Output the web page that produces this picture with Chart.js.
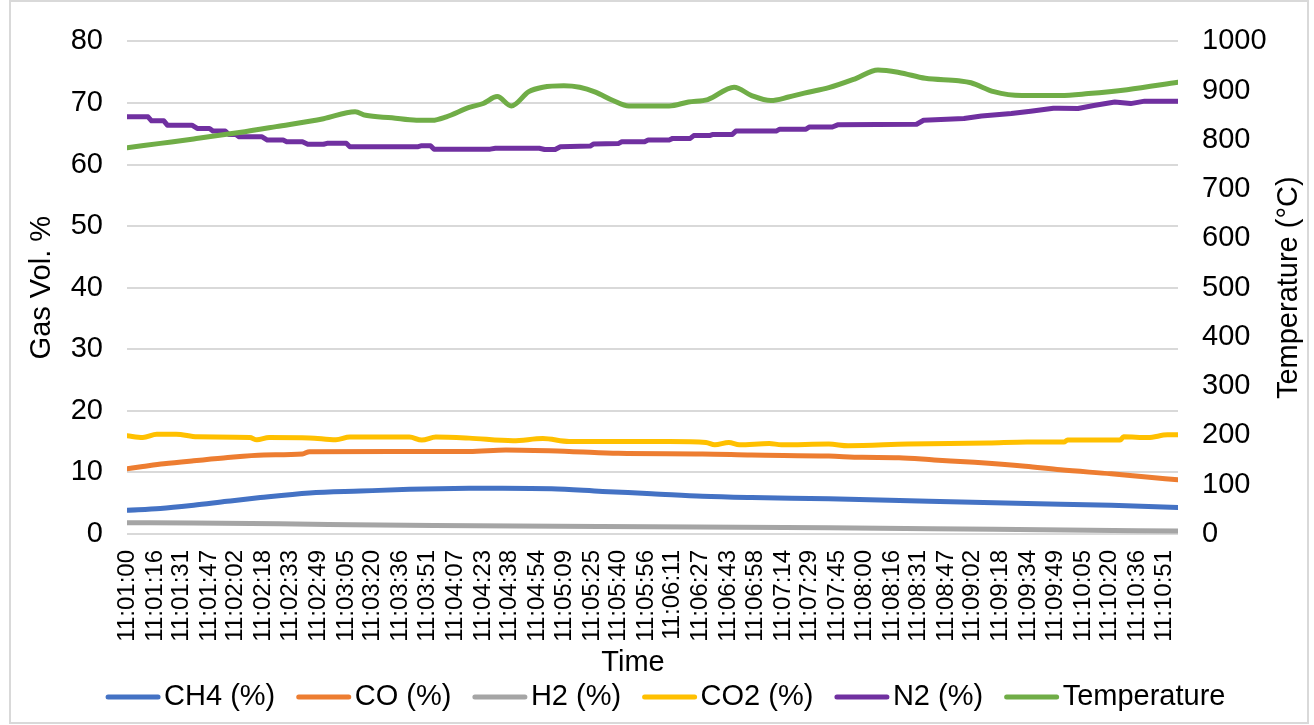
<!DOCTYPE html>
<html>
<head>
<meta charset="utf-8">
<title>Gas composition and temperature</title>
<script src="https://cdn.jsdelivr.net/npm/chart.js@4.4.1/dist/chart.umd.min.js"></script>
<style>
  html, body { margin: 0; padding: 0; background: #fff; }
  #wrap { width: 1314px; height: 725px; }
</style>
</head>
<body>
<div id="wrap"><canvas id="chart" width="1314" height="725"></canvas></div>
<script>
// Time axis labels (hh:mm:ss)
const tickLabels = ['11:01:00','11:01:16','11:01:31','11:01:47','11:02:02','11:02:18','11:02:33','11:02:49',
  '11:03:05','11:03:20','11:03:36','11:03:51','11:04:07','11:04:23','11:04:38','11:04:54','11:05:09','11:05:25',
  '11:05:40','11:05:56','11:06:11','11:06:27','11:06:43','11:06:58','11:07:14','11:07:29','11:07:45','11:08:00',
  '11:08:16','11:08:31','11:08:47','11:09:02','11:09:18','11:09:34','11:09:49','11:10:05','11:10:20','11:10:36',
  '11:10:51'];
const endSeconds = 599; // last sample, seconds after 11:01:00

// Series: sample times (s after 11:01:00) and readings
const ch4Time = [0, 19, 38, 57, 76, 104, 133, 161, 195, 214, 242, 271, 299, 328, 356, 400, 457, 513, 561, 599];
const ch4 = [3.86, 4.14, 4.67, 5.31, 5.91, 6.65, 6.97, 7.25, 7.42, 7.45, 7.36, 6.92, 6.55, 6.12, 5.91, 5.72, 5.31, 4.94, 4.67, 4.32];

const coTime = [0, 9, 21, 38, 55, 78, 100, 104, 151, 195, 216, 252, 280, 328, 356, 400, 419, 440, 460, 483, 512, 532, 561, 578, 599];
const co = [10.6, 10.95, 11.4, 11.9, 12.35, 12.83, 13.0, 13.37, 13.4, 13.4, 13.64, 13.4, 13.1, 13.0, 12.83, 12.65, 12.45, 12.4, 12.03, 11.64, 11.0, 10.42, 9.77, 9.34, 8.8];

const h2Time = [0, 38, 115, 175, 270, 400, 494, 599];
const h2 = [1.82, 1.78, 1.56, 1.4, 1.22, 1.03, 0.76, 0.48];

const co2Time = [0, 9, 17, 28, 40, 70, 74, 81, 104, 119, 127, 161, 168, 176, 195, 220, 237, 252, 309, 330, 335, 343, 349, 366, 373, 400, 411, 445, 491, 513, 534, 536, 566, 568, 582, 593, 599];
const co2 = [15.94, 15.67, 16.2, 16.2, 15.78, 15.67, 15.3, 15.67, 15.6, 15.3, 15.75, 15.75, 15.25, 15.75, 15.57, 15.14, 15.5, 15.02, 15.02, 14.86, 14.49, 14.86, 14.49, 14.7, 14.5, 14.6, 14.33, 14.6, 14.77, 14.93, 14.93, 15.25, 15.25, 15.78, 15.67, 16.1, 16.1];

const n2Time = [0, 12, 14, 21, 23, 37, 40, 47, 49, 56, 58, 62, 64, 77, 80, 89, 91, 100, 103, 112, 114, 125, 127, 166, 168, 173, 175,
  207, 210, 235, 238, 244, 247, 264, 266, 280, 282, 295, 297, 309, 311, 321, 323, 332, 334, 345, 347, 370, 372, 387, 389,
  402, 405, 450, 454, 477, 487, 504, 515, 528, 531, 542, 551, 563, 572, 580, 599];
const n2 = [67.75, 67.75, 67.1, 67.1, 66.4, 66.4, 65.86, 65.86, 65.43, 65.43, 64.9, 64.9, 64.5, 64.5, 63.98, 63.98, 63.7, 63.7, 63.3, 63.3, 63.45, 63.45, 62.9, 62.9, 63.07, 63.07, 62.5,
  62.5, 62.64, 62.64, 62.45, 62.45, 62.9, 63.0, 63.35, 63.4, 63.7, 63.7, 63.98, 63.98, 64.25, 64.25, 64.7, 64.7, 64.9, 64.9, 65.43, 65.43, 65.75, 65.75, 66.1,
  66.1, 66.45, 66.55, 67.2, 67.47, 67.9, 68.28, 68.65, 69.15, 69.15, 69.1, 69.6, 70.16, 69.9, 70.3, 70.3];

const tempTime = [0, 19, 38, 64, 85, 112, 130, 136, 151, 165, 174, 182, 195, 203, 211, 219, 229, 237, 249, 258, 267, 277, 286,
  309, 320, 331, 346, 356, 367, 377, 386, 400, 415, 428, 440, 455, 474, 481, 494, 510, 532, 548, 570, 599];
const temperature = [784, 793, 802, 815, 827, 843, 857, 850, 845, 840, 840, 847, 866, 874, 888, 869, 898, 907, 910, 907, 897, 880, 869,
  869, 877, 882, 907, 890, 880, 887, 895, 906, 924, 942, 937, 925, 920, 916, 898, 890, 890, 894, 902, 917];

const gasTicks = { min: 0, max: 80, step: 10 };
const tempTicks = { min: 0, max: 1000, step: 100 };

const FONT = "'Liberation Sans', Arial, sans-serif";
const tickSeconds = tickLabels.map(s => {
  const [h, m, sec] = s.split(':').map(Number);
  return (h - 11) * 3600 + (m - 1) * 60 + sec;
});
const pairs = (t, v) => t.map((x, i) => ({ x, y: v[i] }));

function series(label, t, v, color, axis, order, tension) {
  return {
    label, data: pairs(t, v), yAxisID: axis, order,
    borderColor: color, backgroundColor: color, borderWidth: 5,
    pointRadius: 0, pointHoverRadius: 0,
    tension: tension, cubicInterpolationMode: tension ? 'monotone' : 'default',
    borderCapStyle: 'round', borderJoinStyle: 'round'
  };
}

// White card with a thin grey frame behind the chart
const framePlugin = {
  id: 'frame',
  beforeDraw(chart) {
    const { ctx, width, height } = chart;
    ctx.save();
    ctx.fillStyle = '#ffffff';
    ctx.fillRect(0, 0, width, height);
    ctx.strokeStyle = '#d9d9d9';
    ctx.lineWidth = 2;
    ctx.strokeRect(10, 1, 1298, 722);
    ctx.restore();
  }
};

// Legend swatches as short round-capped lines, plus the bottom and right axis titles
const decorPlugin = {
  id: 'decor',
  afterDraw(chart) {
    const { ctx, chartArea, legend } = chart;
    ctx.save();
    legend.legendItems.forEach((item, i) => {
      const box = legend.legendHitBoxes[i];
      const y = box.top + box.height / 2;
      ctx.strokeStyle = chart.data.datasets[item.datasetIndex].borderColor;
      ctx.lineWidth = 5;
      ctx.lineCap = 'round';
      ctx.beginPath();
      ctx.moveTo(box.left + 2.5, y);
      ctx.lineTo(box.left + 52.5, y);
      ctx.stroke();
    });
    ctx.fillStyle = '#000';
    ctx.font = `29px ${FONT}`;
    ctx.textAlign = 'center';
    ctx.textBaseline = 'middle';
    ctx.fillText('Time', chartArea.left + chartArea.width * 0.4815, 663);
    ctx.translate(1289, (chartArea.top + chartArea.bottom) / 2);
    ctx.rotate(-Math.PI / 2);
    ctx.fillText('Temperature (°C)', 0, 0);
    ctx.restore();
  }
};

new Chart(document.getElementById('chart'), {
  type: 'line',
  data: {
    datasets: [
      series('CH4 (%)', ch4Time, ch4, '#4472C4', 'y', 5, 0.4),
      series('CO (%)', coTime, co, '#ED7D31', 'y', 4, 0.4),
      series('H2 (%)', h2Time, h2, '#A5A5A5', 'y', 3, 0.4),
      series('CO2 (%)', co2Time, co2, '#FFC000', 'y', 2, 0.4),
      series('N2 (%)', n2Time, n2, '#7030A0', 'y', 1, 0),
      series('Temperature', tempTime, temperature, '#70AD47', 'y1', 0, 0.4)
    ]
  },
  options: {
    responsive: false,
    animation: false,
    devicePixelRatio: 1,
    layout: { padding: { left: 25, right: 8, top: 37, bottom: 3.5 } },
    plugins: {
      tooltip: { enabled: false },
      legend: {
        position: 'bottom',
        labels: {
          color: '#000',
          font: { family: FONT, size: 29 },
          boxWidth: 44,
          boxHeight: 5,
          padding: 21,
          sort: (a, b) => a.datasetIndex - b.datasetIndex,
          generateLabels(chart) {
            return Chart.defaults.plugins.legend.labels.generateLabels(chart).map(item => {
              item.fillStyle = 'rgba(0,0,0,0)';
              item.strokeStyle = 'rgba(0,0,0,0)';
              item.lineWidth = 0;
              return item;
            });
          }
        }
      }
    },
    scales: {
      x: {
        type: 'linear',
        min: 0,
        max: endSeconds,
        afterBuildTicks(scale) { scale.ticks = tickSeconds.map(v => ({ value: v })); },
        afterFit(scale) { scale.height = 127.5; },
        ticks: {
          autoSkip: false, minRotation: 90, maxRotation: 90, padding: 16,
          color: '#000', font: { family: FONT, size: 24 },
          callback: (v, i) => tickLabels[i]
        },
        grid: { display: false, drawTicks: false },
        border: { display: false },
        title: { display: false }
      },
      y: {
        position: 'left',
        min: gasTicks.min, max: gasTicks.max,
        afterFit(scale) { scale.width = 102; },
        ticks: { stepSize: gasTicks.step, padding: 24, color: '#000', font: { family: FONT, size: 29 } },
        grid: { color: '#d9d9d9', lineWidth: 2, drawTicks: false },
        border: { display: false },
        title: {
          display: true, text: 'Gas Vol. %', color: '#000',
          font: { family: FONT, size: 29 }, padding: { top: 0, bottom: 0 }
        }
      },
      y1: {
        position: 'right',
        min: tempTicks.min, max: tempTicks.max,
        afterFit(scale) { scale.width = 128; },
        ticks: {
          stepSize: tempTicks.step, padding: 24, color: '#000', font: { family: FONT, size: 29 },
          callback: v => String(v)
        },
        grid: { display: false, drawTicks: false },
        border: { display: false },
        title: { display: false }
      }
    }
  },
  plugins: [framePlugin, decorPlugin]
});
</script>
</body>
</html>
